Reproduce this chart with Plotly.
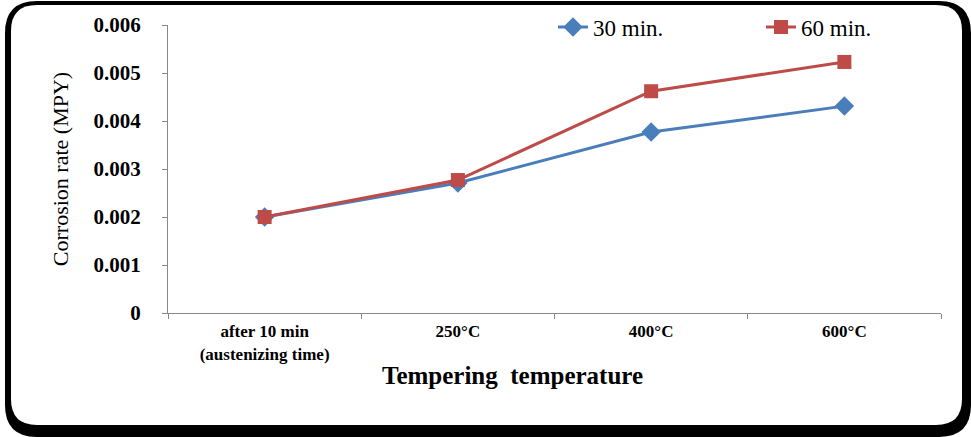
import plotly.graph_objects as go

categories = ["after 10 min<br>(austenizing time)", "250°C", "400°C", "600°C"]
series_30 = [0.0020, 0.00271, 0.00377, 0.00431]
series_60 = [0.0020, 0.00277, 0.00462, 0.00523]
y_ticks = [0, 0.001, 0.002, 0.003, 0.004, 0.005, 0.006]
y_tick_labels = ["0", "0.001", "0.002", "0.003", "0.004", "0.005", "0.006"]

W, H = 971, 437
L, R, T, B = 168, 30, 25, 124
PW, PH = W - L - R, H - T - B

def px(x):
    return (x - L) / PW

def py(y):
    return (H - B - y) / PH

def rrect(x0, y0, x1, y1, r):
    def P(x, y):
        return f"{px(x):.5f},{py(y):.5f}"
    p = f"M {P(x0 + r, y0)} L {P(x1 - r, y0)} Q {P(x1, y0)} {P(x1, y0 + r)} "
    p += f"L {P(x1, y1 - r)} Q {P(x1, y1)} {P(x1 - r, y1)} "
    p += f"L {P(x0 + r, y1)} Q {P(x0, y1)} {P(x0, y1 - r)} "
    p += f"L {P(x0, y0 + r)} Q {P(x0, y0)} {P(x0 + r, y0)} Z"
    return p

serif = "Times New Roman, Liberation Serif, serif"

fig = go.Figure()
fig.add_trace(go.Scatter(
    x=categories, y=series_30, name="30 min.", mode="lines+markers",
    line=dict(color="#4A7EBB", width=3),
    marker=dict(symbol="diamond", size=15, color="#4A7EBB"),
))
fig.add_trace(go.Scatter(
    x=categories, y=series_60, name="60 min.", mode="lines+markers",
    line=dict(color="#BE4B48", width=3),
    marker=dict(symbol="square", size=14, color="#BE4B48"),
))

shapes = [
    dict(type="path", xref="paper", yref="paper", path=rrect(5, 1, 971, 437, 32),
         fillcolor="black", line=dict(width=0), layer="below"),
    dict(type="path", xref="paper", yref="paper", path=rrect(11, 5, 962, 425, 26),
         fillcolor="white", line=dict(width=0), layer="below"),
]

fig.update_layout(
    width=W, height=H,
    margin=dict(l=L, r=R, t=T, b=B, autoexpand=False),
    paper_bgcolor="white",
    plot_bgcolor="rgba(0,0,0,0)",
    shapes=shapes,
    font=dict(family=serif, color="black"),
    showlegend=True,
    legend=dict(
        orientation="h", x=px(553), y=py(27), xanchor="left", yanchor="middle",
        font=dict(family=serif, size=23, color="black"),
        bgcolor="rgba(0,0,0,0)", entrywidth=163, entrywidthmode="pixels",
    ),
    xaxis=dict(
        type="category", range=[-0.5, 3.5], tickson="boundaries", ticks="outside", ticklen=5,
        tickcolor="#888888", showline=True, linecolor="#888888", linewidth=1,
        showgrid=False, zeroline=False,
        tickfont=dict(family=serif, size=17, color="black", weight="bold"),
        ticklabelstandoff=3,
    ),
    yaxis=dict(
        range=[0, 0.006], tickvals=y_ticks, ticktext=y_tick_labels,
        ticks="outside", ticklen=5, tickcolor="#888888",
        showline=True, linecolor="#888888", linewidth=1,
        showgrid=False, zeroline=False,
        tickfont=dict(family=serif, size=21, color="black", weight="bold"),
        ticklabelstandoff=17,
        title=dict(text="Corrosion rate (MPY)", standoff=18,
                   font=dict(family=serif, size=22, color="black")),
    ),
    annotations=[dict(
        text="Tempering  temperature", xref="paper", yref="paper",
        x=px(512), y=py(375), xanchor="center", yanchor="middle", showarrow=False,
        font=dict(family=serif, size=25, color="black", weight="bold"),
    )],
)

fig.write_html("out.html")
